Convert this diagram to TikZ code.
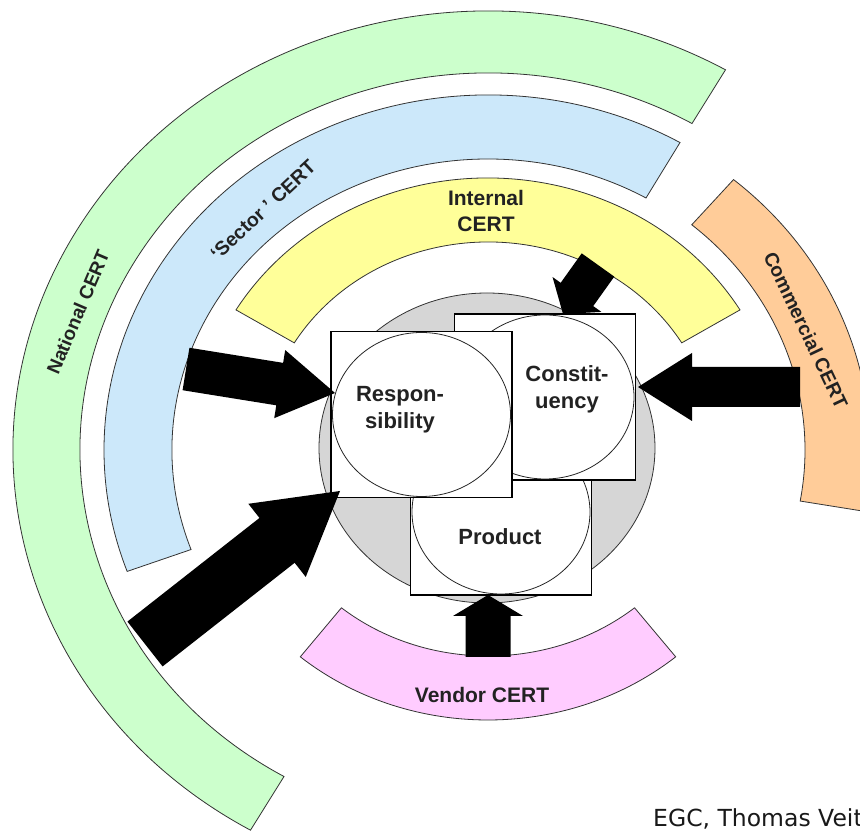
\documentclass[tikz,border=0pt]{standalone}
\usepackage{fontspec}
\setmainfont{Liberation Sans}
\newfontfamily\egcfont{DejaVu Sans}
\usetikzlibrary{calc,shapes.geometric}
\definecolor{natgreen}{HTML}{CCFFCC}
\definecolor{secblue}{HTML}{CCE8FA}
\definecolor{intyellow}{HTML}{FFFF99}
\definecolor{comorange}{HTML}{FFCC99}
\definecolor{venpink}{HTML}{FFCCFF}
\definecolor{coregray}{HTML}{D6D6D6}
\definecolor{labeltext}{HTML}{222222}
% band: center, start, end, outer rx, outer ry, inner rx, inner ry, fill
\newcommand\bandarc[8]{%
  \filldraw[band, fill=#8] ($(#1)+(#2:#4 and #5)$)
    arc[start angle=#2, end angle=#3, x radius=#4, y radius=#5]
    -- ($(#1)+(#3:#6 and #7)$)
    arc[start angle=#3, end angle=#2, x radius=#6, y radius=#7] -- cycle;}
% block arrow: tail, tip, shaft half width, head half width, head length
\newcommand\blockarrow[5]{%
  \coordinate (ba-base) at ($(#2)!#5!(#1)$);
  \fill[arrowfill] ($(#1)!#3!90:(#2)$) -- ($(ba-base)!#3!90:(#2)$)
    -- ($(ba-base)!#4!90:(#2)$) -- (#2) -- ($(ba-base)!#4!-90:(#2)$)
    -- ($(ba-base)!#3!-90:(#2)$) -- ($(#1)!#3!-90:(#2)$) -- cycle;}
\begin{document}
\begin{tikzpicture}[x=1pt,y=1pt,
  band/.style={draw=black!80, line width=0.8pt},
  arrowfill/.style={fill=black},
  sqbox/.style={draw=black, line width=1.3pt, fill=white, minimum width=181pt, minimum height=166pt, inner sep=0pt},
  innercirc/.style={ellipse, draw=black!85, line width=0.8pt, fill=white, minimum width=178pt, minimum height=164pt, inner sep=0pt},
  corelbl/.style={font=\fontsize{22}{27}\selectfont\bfseries, text=labeltext, align=center, inner sep=0pt},
  certlbl/.style={font=\fontsize{20}{26}\selectfont\bfseries, text=labeltext, align=center, inner sep=0pt}]
\useasboundingbox (0,0) rectangle (860,833);
\fill[white] (0,0) rectangle (860,833);
\coordinate (C) at (488,383);
% CERT bands
\bandarc{C}{60}{240}{475pt}{439pt}{408pt}{377pt}{natgreen}
\bandarc{C}{60}{200}{384pt}{355pt}{316pt}{291pt}{secblue}
\bandarc{C}{31}{149}{294pt}{272pt}{226pt}{208pt}{intyellow}
\bandarc{C}{-10}{50}{382pt}{353pt}{317pt}{294pt}{comorange}
\bandarc{C}{230}{310}{292pt}{270pt}{228pt}{206pt}{venpink}
% core
\node[ellipse, draw=black!80, line width=0.8pt, fill=coregray, minimum width=336pt, minimum height=310pt, inner sep=0pt] (core) at (487,385) {};
\node[sqbox] (prodbox) at (501,321) {};
\node[innercirc] (prodcirc) at (prodbox.center) {};
\node[sqbox] (constbox) at (545,436) {};
\node[innercirc] (constcirc) at (constbox.center) {};
\node[sqbox] (respbox) at (421.5,418.5) {};
\node[innercirc] (respcirc) at (respbox.center) {};
% core labels
\node[corelbl] (resptxt) at (400,423) {Respon-\\sibility};
\node[corelbl] (consttxt) at (567,444) {Constit-\\uency};
\node[corelbl] (prodtxt) at (500,296) {Product};
% CERT labels
\node[certlbl, font=\fontsize{19}{24}\selectfont\bfseries, rotate=67] (natlbl) at (78,521) {National CERT};
\node[certlbl, font=\fontsize{19.5}{24}\selectfont\bfseries, rotate=43] (seclbl) at (263,623) {‘Sector ’ CERT};
\node[certlbl, font=\fontsize{21}{26}\selectfont\bfseries] (intlbl) at (486,622) {Internal\\CERT};
\node[certlbl, font=\fontsize{19.5}{24}\selectfont\bfseries, rotate=-64.6] (comlbl) at (806,503) {Commercial CERT};
\node[certlbl, font=\fontsize{21}{26}\selectfont\bfseries] (venlbl) at (482,138) {Vendor CERT};
% arrows
\coordinate (a1tail) at (186,464); \coordinate (a1tip) at (335,440);
\coordinate (a2tail) at (145,189); \coordinate (a2tip) at (340,342);
\coordinate (a3tail) at (598,568); \coordinate (a3tip) at (563,519);
\coordinate (a4tail) at (800,446); \coordinate (a4tip) at (638,446);
\coordinate (a5tail) at (488,176); \coordinate (a5tip) at (488,238);
\blockarrow{a1tail}{a1tip}{21.5pt}{34.5pt}{56pt}
\blockarrow{a2tail}{a2tip}{28.5pt}{46.5pt}{80pt}
\blockarrow{a3tail}{a3tip}{20pt}{30pt}{24pt}
\blockarrow{a4tail}{a4tip}{20pt}{34pt}{54pt}
\blockarrow{a5tail}{a5tip}{22.5pt}{35pt}{21pt}
% credit
\node[anchor=base west, inner sep=0pt, font=\egcfont\fontsize{23.5}{28}\selectfont, text=black!90] (egc) at (653,6) {EGC, Thomas Veit};
\end{tikzpicture}
\end{document}
